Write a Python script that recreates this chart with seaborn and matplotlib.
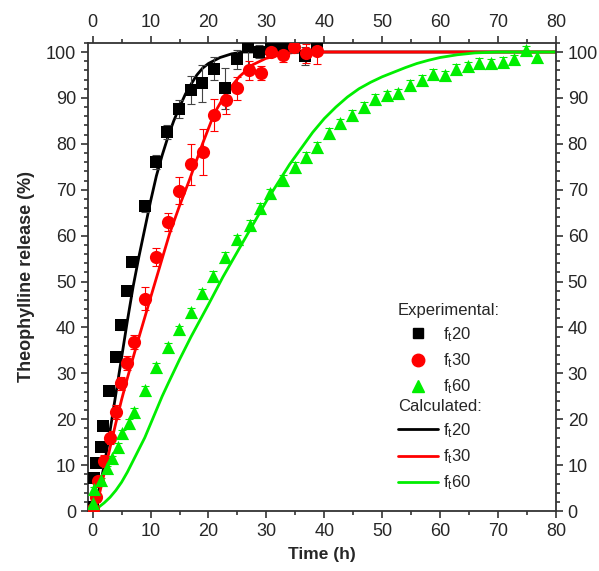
import seaborn as sns
import matplotlib.pyplot as plt
import pandas as pd
import numpy as np
from matplotlib.ticker import MultipleLocator
from matplotlib.lines import Line2D

sns.set_style("ticks")
plt.rcParams["font.family"] = ["Liberation Sans", "DejaVu Sans"]
plt.rcParams["mathtext.default"] = "regular"

# Experimental data: f_t20
t20 = [0, 0.2, 0.6, 1.5, 1.8, 2.9, 4.1, 4.9, 6.0, 6.8, 9.1, 11.0, 12.9, 14.9, 16.9,
       18.9, 20.9, 22.9, 24.9, 26.9, 28.8, 30.8, 32.8, 34.8, 36.7, 38.8]
r20 = [0.9, 7.2, 10.4, 14.0, 18.6, 26.2, 33.6, 40.5, 48.0, 54.3, 66.4, 76.1, 82.5, 87.6, 91.7,
       93.2, 96.4, 92.1, 98.4, 101.2, 100.1, 100.6, 101.2, 101.3, 99.1, 101.2]
e20 = [0.5, 0.5, 0.6, 0.8, 0.8, 1.0, 1.0, 1.0, 1.0, 1.0, 1.2, 1.5, 1.5, 2.0, 3.0,
       4.0, 2.5, 4.5, 2.0, 5.0, 1.5, 1.5, 1.5, 1.5, 2.0, 1.5]

# Experimental data: f_t30
t30 = [0, 0.5, 1.0, 2.0, 3.0, 4.0, 4.9, 6.0, 7.1, 9.1, 11.0, 13.0, 14.9, 17.0, 19.0,
       20.9, 23.0, 25.0, 27.0, 29.0, 30.8, 32.8, 34.8, 36.8, 38.8]
r30 = [0.5, 3.0, 6.5, 11.0, 16.0, 21.5, 27.8, 32.3, 36.9, 46.3, 55.3, 63.0, 69.8, 75.5, 78.3,
       86.3, 89.5, 92.1, 96.0, 95.5, 100.1, 99.4, 101.0, 99.7, 100.3]
e30 = [0.5, 1.0, 1.0, 1.2, 1.5, 1.5, 1.5, 1.5, 1.5, 2.5, 2.0, 2.0, 3.0, 4.5, 5.0,
       3.5, 3.0, 2.5, 2.0, 1.5, 1.0, 1.5, 1.0, 2.0, 3.0]

# Experimental data: f_t60
t60 = [0, 0.3, 1.5, 2.5, 3.4, 4.3, 5.1, 6.3, 7.2, 9.0, 11.0, 13.0, 14.9, 16.9, 18.8,
       20.7, 22.9, 25.0, 27.1, 28.9, 30.7, 32.8, 34.9, 36.8, 38.8, 40.9, 42.7, 44.8, 46.8,
       48.8, 50.8, 52.8, 54.8, 56.8, 58.7, 60.8, 62.8, 64.9, 66.8, 68.8, 70.9, 72.8, 74.8, 76.8]
r60 = [1.7, 4.7, 6.8, 9.3, 11.5, 14.0, 16.9, 19.2, 21.6, 26.4, 31.4, 35.8, 39.6, 43.4, 47.6,
       51.2, 55.4, 59.2, 62.3, 66.0, 69.2, 72.2, 75.0, 77.2, 79.4, 82.4, 84.5, 86.3, 88.1,
       89.8, 90.6, 91.0, 92.8, 93.9, 95.2, 94.9, 96.4, 96.9, 97.7, 97.5, 97.9, 98.4, 100.4, 99.0]
e60 = [0.5] * 5 + [0.8] * 10 + [1.0] * 29

# Calculated curves
c20_t = [0, 1, 2, 3, 4, 5, 6, 7, 8, 9, 10, 11, 12, 13, 14, 15, 16, 17, 18, 19, 20, 22, 24, 26, 80]
c20_r = [0, 4, 10, 17.5, 25.5, 33.5, 41.5, 49, 55.5, 61.5, 67.5, 73, 77.5, 81.5, 85, 88, 90.8,
         93, 95, 96.5, 97.5, 98.8, 99.6, 100, 100]
c30_t = [0.5, 1, 2, 3, 4, 5, 6, 7, 8, 10, 12, 13.3, 15, 16.7, 19, 21, 23, 25.3, 27.6, 29.9,
         32.2, 35, 80]
c30_r = [0, 2.8, 8.3, 13.8, 19.2, 24.3, 29, 33.5, 37.9, 46.5, 55, 60.5, 66.5, 72.1, 80.1, 86.6,
         91, 94.6, 97.2, 98.6, 99.3, 100, 100]
c60_t = [0, 1, 2, 3, 4, 5, 6, 7, 8, 9, 10, 11, 12, 13, 15, 17, 20, 22.5, 25, 27.5, 30, 32, 34,
         36, 38, 40, 42, 44, 46, 48, 50, 52, 54, 56, 58, 60, 63, 66, 70, 80]
c60_r = [0, 0.8, 1.8, 3, 4.5, 6.3, 8.5, 11, 13.5, 16, 19, 22, 25, 27.7, 33, 38, 45, 51, 56.5, 62,
         67.5, 71.5, 75.5, 79, 82.5, 85.5, 88, 90.2, 92, 93.4, 94.6, 95.6, 96.6, 97.5, 98.2, 98.8,
         99.4, 99.8, 100, 100]

black, red, green = "#000000", "#ff0000", "#00ee00"
labels = ["f$_\\mathregular{t}$20", "f$_\\mathregular{t}$30", "f$_\\mathregular{t}$60"]

fig = plt.figure(figsize=(5.99, 5.71), dpi=100)
ax = fig.add_axes([0.147, 0.105, 0.781, 0.820])

# calculated curves
for ct, cr, col in [(c20_t, c20_r, black), (c30_t, c30_r, red), (c60_t, c60_r, green)]:
    sns.lineplot(x=ct, y=cr, color=col, linewidth=2.0, ax=ax, zorder=2)

# experimental points with error bars
exp = [(t20, r20, e20, black, "#444444", "s", 70),
       (t30, r30, e30, red, red, "o", 90),
       (t60, r60, e60, green, green, "^", 90)]
for t, r, e, col, ecol, mk, sz in exp:
    ax.errorbar(t, r, yerr=e, fmt="none", ecolor=ecol, elinewidth=0.8, capsize=3,
                capthick=0.8, zorder=3)
    sns.scatterplot(x=t, y=r, color=col, marker=mk, s=sz, linewidth=0, ax=ax, zorder=4)

ax.set_xlim(-0.8, 80)
ax.set_ylim(0, 102)
ax.xaxis.set_major_locator(MultipleLocator(10))
ax.xaxis.set_minor_locator(MultipleLocator(5))
ax.yaxis.set_major_locator(MultipleLocator(10))
ax.yaxis.set_minor_locator(MultipleLocator(2))
ax.tick_params(which="both", direction="out", top=True, right=True,
               labeltop=True, labelright=True, labelsize=13, width=1.2, color="#333333")
ax.tick_params(which="major", length=5)
ax.tick_params(which="minor", length=3)
for s in ax.spines.values():
    s.set_visible(True)
    s.set_linewidth(1.3)
    s.set_color("#333333")

ax.set_xlabel("Time (h)", fontsize=12.5, fontweight="bold", labelpad=5)
ax.set_ylabel("Theophylline release (%)", fontsize=13, fontweight="bold", labelpad=8)

mk_handles = [Line2D([], [], ls="none", marker=m, color=c, markersize=ms)
              for m, c, ms in [("s", black, 7), ("o", red, 9), ("^", green, 9)]]
leg1 = ax.legend(mk_handles, labels, title="Experimental:", loc="upper left",
                 bbox_to_anchor=(0.662, 0.445), frameon=False, fontsize=12,
                 title_fontsize=12, alignment="left", handlelength=2.4,
                 handletextpad=0.3, labelspacing=0.45, borderpad=0, borderaxespad=0)
ax.add_artist(leg1)
ln_handles = [Line2D([], [], color=c, linewidth=2.0) for c in (black, red, green)]
ax.legend(ln_handles, labels, title="Calculated:", loc="upper left",
          bbox_to_anchor=(0.662, 0.240), frameon=False, fontsize=12,
          title_fontsize=12, alignment="left", handlelength=2.4,
          handletextpad=0.3, labelspacing=0.45, borderpad=0, borderaxespad=0)

fig.savefig("out.png", dpi=100)
plt.close(fig)
